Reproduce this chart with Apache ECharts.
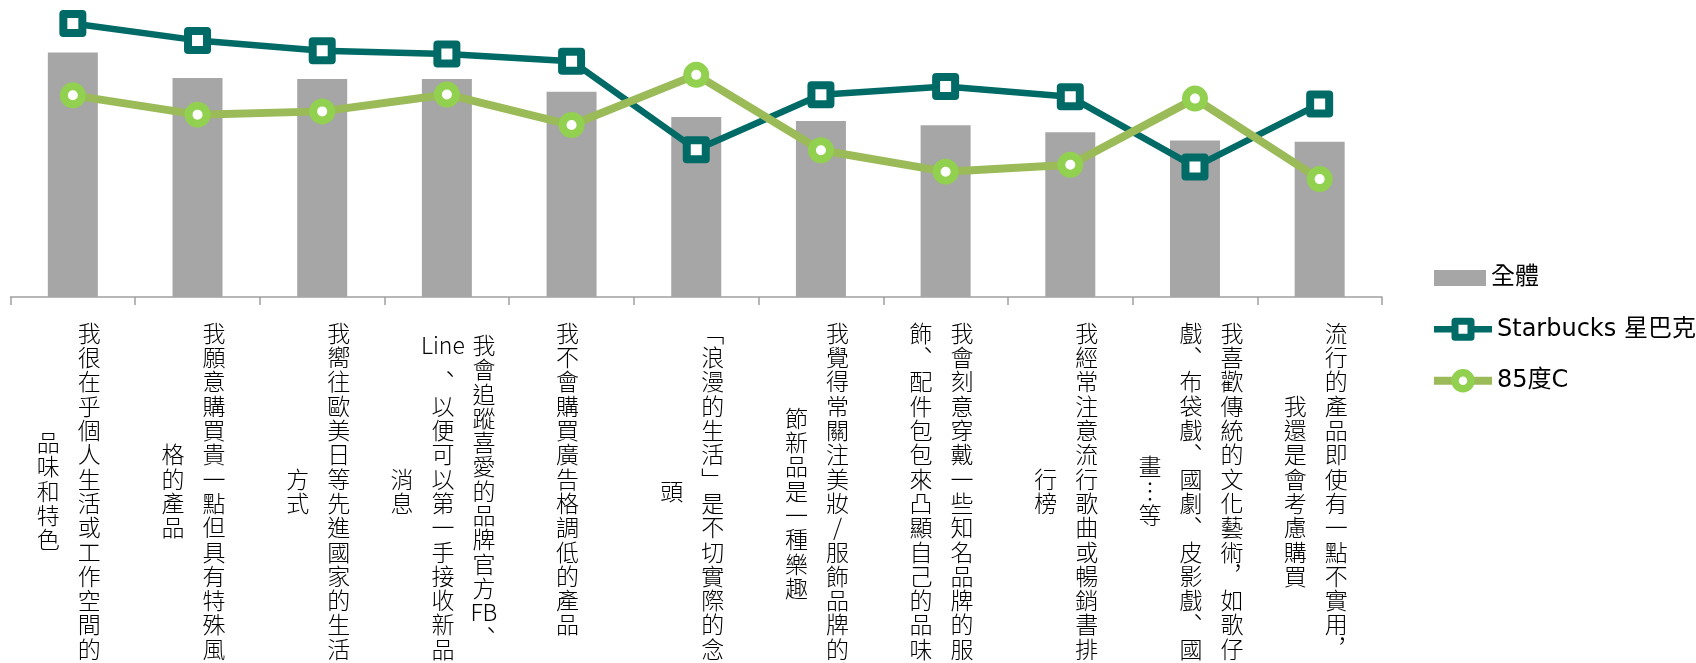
<!DOCTYPE html>
<html>
<head>
<meta charset="utf-8">
<script src="https://cdn.jsdelivr.net/npm/echarts@6/dist/echarts.min.js"></script>
<style>
html,body{margin:0;padding:0;background:#fff;}
#c{width:1696px;height:663px;}
</style>
</head>
<body>
<div id="c"></div>
<script>
// Category labels ("\n" marks the column breaks of the vertical text)
const categories = [
  '我很在乎個人生活或工作空間的\n品味和特色',
  '我願意購買貴一點但具有特殊風\n格的產品',
  '我嚮往歐美日等先進國家的生活\n方式',
  '我會追蹤喜愛的品牌官方FB、\nLine、以便可以第一手接收新品\n消息',
  '我不會購買廣告格調低的產品',
  '「浪漫的生活」是不切實際的念\n頭',
  '我覺得常關注美妝/服飾品牌的季\n節新品是一種樂趣',
  '我會刻意穿戴一些知名品牌的服\n飾、配件包包來凸顯自己的品味',
  '我經常注意流行歌曲或暢銷書排\n行榜',
  '我喜歡傳統的文化藝術，如歌仔\n戲、布袋戲、國劇、皮影戲、國\n畫…等',
  '流行的產品即使有一點不實用，\n我還是會考慮購買'
];
const seriesNames = ['全體', 'Starbucks 星巴克', '85度C'];
const overall   = [82.3, 73.7, 73.4, 73.4, 69.1, 60.6, 59.3, 57.8, 55.5, 52.7, 52.3];
const starbucks = [92.1, 86.4, 82.9, 81.8, 79.4, 49.6, 68.1, 70.9, 67.4, 43.8, 65.0];
const c85       = [67.9, 61.4, 62.5, 68.2, 57.9, 74.8, 49.4, 42.2, 44.5, 66.8, 39.7];

// ---- vertical (top-to-bottom, right-to-left) label layout ----
const COL_W = 41;
const HALF = 12.15;
const VERT = {'「':'﹁', '」':'﹂', '，':'︐', '、':'︑', '…':'︙'};
function tokenize(col) {
  const out = [];
  const re = /[A-Za-z]+|./gu;
  let m;
  while ((m = re.exec(col))) {
    const t = m[0];
    out.push({ t: VERT[t] || t, n: /^[A-Za-z]{3,}$/.test(t) ? 2 : 1 });
  }
  return out;
}
function verticalLabel(label) {
  const cols = label.split('\n').map(tokenize);
  const lens = cols.map(c => c.reduce((a, b) => a + b.n, 0));
  const M = Math.max.apply(null, lens);
  const rows = 2 * M;
  const grid = [];
  for (let r = 0; r < rows; r++) grid.push(cols.map(() => '\u3000'));
  cols.forEach((c, k) => {
    let s = 0;
    const o = M - lens[k];
    c.forEach(tok => {
      grid[o + 2 * s + (tok.n - 1)][k] = tok.t;
      s += tok.n;
    });
  });
  return grid.map(row => row.slice().reverse().map(ch => '{c|' + ch + '}').join('')).join('\n');
}

const chart = echarts.init(document.getElementById('c'), null, { renderer: 'canvas' });
const TEAL = '#006B66';
const GREEN_LINE = '#9BBB59';
const GREEN_MARK = '#92D050';
const legendText = { fontSize: 24, lineHeight: 28, color: '#000', fontFamily: '"DejaVu Sans", "Noto Sans CJK TC", sans-serif' };

chart.setOption({
  animation: false,
  backgroundColor: '#ffffff',
  grid: { left: 10.5, width: 1371.5, top: 0, height: 297, containLabel: false, outerBoundsMode: 'none' },
  legend: [
    {
      orient: 'vertical',
      left: 1429,
      top: 259,
      itemWidth: 52,
      itemHeight: 16,
      textStyle: legendText,
      data: [{ name: seriesNames[0], icon: 'rect' }]
    },
    {
      orient: 'vertical',
      left: 1425,
      top: 310.3,
      itemWidth: 58,
      itemHeight: 20,
      itemGap: 23.4,
      textStyle: legendText,
      data: [
        { name: seriesNames[1], lineStyle: { width: 6.5 }, itemStyle: { borderWidth: 7 } },
        { name: seriesNames[2], lineStyle: { width: 8 }, itemStyle: { borderWidth: 7.5 } }
      ]
    }
  ],
  xAxis: {
    type: 'category',
    data: categories,
    boundaryGap: true,
    axisLine: { show: true, lineStyle: { color: '#A0A0A0', width: 1.5 } },
    axisTick: { show: true, length: 8, lineStyle: { color: '#A0A0A0', width: 1.5 } },
    axisLabel: {
      interval: 0,
      margin: 30,
      padding: [0, 8, 0, 0],
      formatter: v => verticalLabel(v),
      rich: {
        c: {
          fontSize: 23,
          fontWeight: 300,
          lineHeight: HALF,
          width: COL_W,
          align: 'center',
          color: '#000',
          fontFamily: '"Noto Sans CJK TC", "Noto Sans", sans-serif'
        }
      }
    }
  },
  yAxis: { type: 'value', min: 0, max: 100, show: false, splitLine: { show: false } },
  series: [
    {
      name: seriesNames[0],
      type: 'bar',
      data: overall,
      barWidth: 50,
      itemStyle: { color: '#A6A6A6' }
    },
    {
      name: seriesNames[1],
      type: 'line',
      data: starbucks,
      symbol: 'rect',
      symbolSize: 19,
      lineStyle: { color: TEAL, width: 6.5 },
      itemStyle: { color: '#ffffff', borderColor: TEAL, borderWidth: 8, borderJoin: 'round' },
      z: 3
    },
    {
      name: seriesNames[2],
      type: 'line',
      data: c85,
      symbol: 'circle',
      symbolSize: 18,
      lineStyle: { color: GREEN_LINE, width: 8 },
      itemStyle: { color: '#ffffff', borderColor: GREEN_MARK, borderWidth: 8 },
      z: 4
    }
  ]
});
</script>
</body>
</html>
